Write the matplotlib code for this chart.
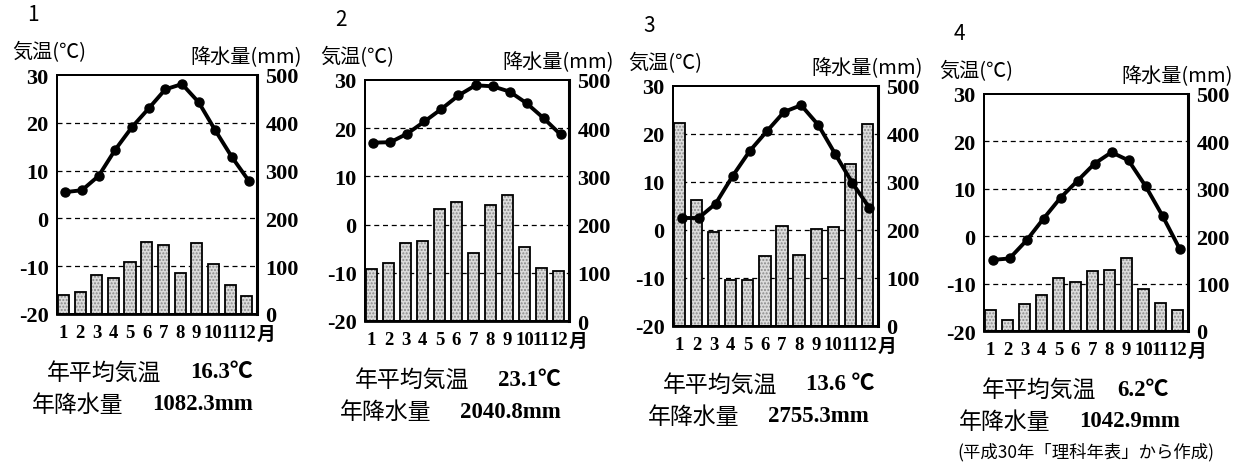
import matplotlib
matplotlib.use("Agg")
import matplotlib.pyplot as plt

plt.rcParams['font.family'] = ['Noto Sans CJK JP', 'DejaVu Sans']

# monthly values
months = list(range(1, 13))
temp1 = [5.5, 5.9, 8.9, 14.4, 19.1, 23.0, 27.0, 28.1, 24.3, 18.4, 12.8, 7.9]
rain1 = [39, 45, 82, 76, 108, 151, 144, 86, 148, 104, 60, 37]
temp2 = [17.0, 17.1, 18.9, 21.4, 24.0, 26.8, 28.9, 28.7, 27.6, 25.2, 22.1, 18.7]
rain2 = [107, 120, 161, 166, 232, 247, 141, 241, 261, 153, 110, 103]
temp3 = [2.5, 2.5, 5.5, 11.3, 16.5, 20.6, 24.6, 26.0, 21.9, 15.8, 9.8, 4.6]
rain3 = [422, 262, 195, 95, 95, 145, 208, 148, 203, 206, 338, 420]
temp4 = [-5.0, -4.7, -0.9, 3.7, 8.1, 11.7, 15.3, 17.7, 16.0, 10.6, 4.3, -2.6]
rain4 = [45, 23, 58, 77, 111, 104, 126, 128, 153, 89, 60, 44]

numbers = ['1', '2', '3', '4']
mean_temp = ['16.3℃', '23.1℃', '13.6 ℃', '6.2℃']
total_rain = ['1082.3mm', '2040.8mm', '2755.3mm', '1042.9mm']
temp_ticks = [-20, -10, 0, 10, 20, 30]
rain_ticks = [0, 100, 200, 300, 400, 500]

# panel boxes in pixels: left, right, top, bottom
boxes = [(57, 257, 76, 315), (365, 569, 81, 322),
         (673, 878, 87, 327), (984, 1188, 95, 332)]
temps = [temp1, temp2, temp3, temp4]
rains = [rain1, rain2, rain3, rain4]

W, H = 1242, 464
fig = plt.figure(figsize=(W / 100, H / 100), dpi=100)
serif = ['Liberation Serif', 'Noto Sans CJK JP']
tick_font = dict(family=serif, fontweight='bold', fontsize=16)


def fx(x):
    return x / W


def fy(y):
    return 1 - y / H


for k in range(4):
    L, R, T, B = boxes[k]
    ax = fig.add_axes([fx(L), fy(B), (R - L) / W, (B - T) / H])
    ax2 = ax.twinx()
    ax.set_zorder(2)
    ax.patch.set_visible(False)

    xb = [m - 1 + 0.38 for m in months]
    ax2.bar(xb, rains[k], width=0.66, color='#dcdcdc', hatch='.....',
            edgecolor='#8a8a8a', linewidth=0, zorder=2)
    ax2.bar(xb, rains[k], width=0.66, fill=False, edgecolor='black',
            linewidth=1.3, zorder=3)
    for r in rain_ticks[1:-1]:
        ax2.axhline(r, color='black', lw=0.9, ls=(0, (4, 3)), zorder=1)
    ax2.set_ylim(0, 500)
    ax2.set_yticks(rain_ticks)
    ax2.set_yticklabels([str(v) for v in rain_ticks], **tick_font)

    xl = [m - 0.5 for m in months]
    ax.plot(xl, temps[k], color='black', lw=2.8, marker='o', ms=6.5, zorder=5)
    ax.set_ylim(-20, 30)
    ax.set_xlim(0, 12)
    ax.set_yticks(temp_ticks)
    ax.set_yticklabels([str(v) for v in temp_ticks], **tick_font)
    ax.set_xticks(xb)
    ax.set_xticklabels([str(m) for m in months], family=serif,
                       fontweight='bold', fontsize=13.5)

    for a in (ax, ax2):
        a.tick_params(length=0, pad=6)
        for s in a.spines.values():
            s.set_linewidth(1.4)
    ax.tick_params(axis='x', pad=7)
    ax2.spines['right'].set_linewidth(2.2)
    ax.spines['bottom'].set_linewidth(2.0)

    fig.text(fx(R), fy(B + 20), '月', fontsize=13.5, fontweight='bold',
             family=serif, va='center', ha='left')
    fig.text(fx(L - 30), fy(T - 61), numbers[k], fontsize=15, va='center', ha='left')
    fig.text(fx(L - 45), fy(T - 23), '気温(℃)', fontsize=14.5, va='center', ha='left')
    fig.text(fx(R + 45), fy(T - 18), '降水量(mm)', fontsize=14.5, va='center', ha='right')

    off = -2 if k == 3 else -10
    fig.text(fx(L + off), fy(B + 58), '年平均気温', fontsize=16.5, va='center', ha='left')
    fig.text(fx(L + 133), fy(B + 58), mean_temp[k], fontsize=16.5, va='center',
             ha='left', family=serif, fontweight='bold')
    fig.text(fx(L - 25), fy(B + 90), '年降水量', fontsize=16.5, va='center', ha='left')
    fig.text(fx(L + 95), fy(B + 90), total_rain[k], fontsize=16.5, va='center',
             ha='left', family=serif, fontweight='bold')

fig.text(fx(957), fy(452), '(平成30年「理科年表」から作成)', fontsize=12.5,
         va='center', ha='left')

fig.savefig('out.png', dpi=100)
